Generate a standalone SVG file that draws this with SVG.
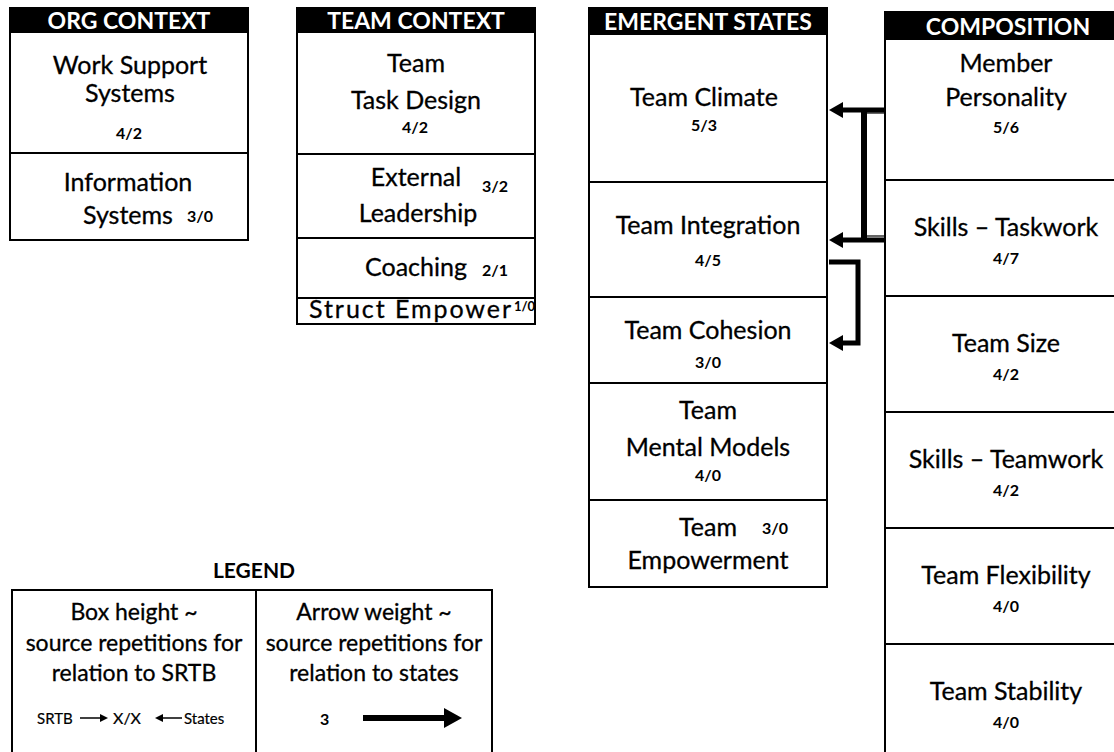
<svg xmlns="http://www.w3.org/2000/svg" width="1114" height="752" viewBox="0 0 1114 752">
<defs>
<style>
.box{fill:#fff;stroke:#000;stroke-width:2}
.hdr{fill:#000}
.div{stroke:#000;stroke-width:2}
.ht{font-family:Lato,"Liberation Sans",sans-serif;font-weight:bold;font-size:23px;fill:#fff;text-anchor:middle}
.t{font-family:Lato,"Liberation Sans",sans-serif;font-size:25px;fill:#000;stroke:#000;stroke-width:0.3;text-anchor:middle}
.n{font-family:Lato,"Liberation Sans",sans-serif;font-weight:bold;font-size:16px;fill:#000;text-anchor:middle}
.ns{font-family:Lato,"Liberation Sans",sans-serif;font-weight:bold;font-size:16px;fill:#000}
.lt{font-family:Lato,"Liberation Sans",sans-serif;font-size:23px;fill:#000;stroke:#000;stroke-width:0.3;text-anchor:middle}
.sm{font-family:Lato,"Liberation Sans",sans-serif;font-size:15px;fill:#000;stroke:#000;stroke-width:0.2}
.arr{fill:none;stroke:#000;stroke-width:5}
</style>
<marker id="ah" viewBox="0 0 14 16" refX="0" refY="8" markerWidth="14" markerHeight="16" markerUnits="userSpaceOnUse" orient="auto">
<path d="M0,0 L14,8 L0,16 z" fill="#000"/>
</marker>
<marker id="ahs" viewBox="0 0 8 8" refX="0" refY="4" markerWidth="8" markerHeight="8" markerUnits="userSpaceOnUse" orient="auto">
<path d="M0,0 L8,4 L0,8 z" fill="#000"/>
</marker>
<marker id="ahb" viewBox="0 0 18 20" refX="0" refY="10" markerWidth="18" markerHeight="20" markerUnits="userSpaceOnUse" orient="auto">
<path d="M0,0 L18,10 L0,20 z" fill="#000"/>
</marker>
</defs>
<rect width="1114" height="752" fill="#fff"/>

<g id="org-context">
<rect class="box" x="10" y="8" width="238" height="232"/>
<rect class="hdr" x="10" y="8" width="238" height="25"/>
<text class="ht" x="129" y="29">ORG CONTEXT</text>
<line class="div" x1="10" y1="153" x2="248" y2="153"/>
<g id="work-support-systems">
<text class="t" x="130" y="74">Work Support</text>
<text class="t" x="130" y="102">Systems</text>
<text class="n" x="129" y="139">4/2</text>
</g>
<g id="information-systems">
<text class="t" x="128" y="191">Information</text>
<text class="t" x="128" y="224">Systems</text>
<text class="ns" x="187" y="222">3/0</text>
</g>
</g>

<g id="team-context">
<rect class="box" x="297" y="8" width="238" height="316"/>
<rect class="hdr" x="297" y="8" width="238" height="25"/>
<text class="ht" x="416" y="29">TEAM CONTEXT</text>
<line class="div" x1="297" y1="154" x2="535" y2="154"/>
<line class="div" x1="297" y1="238" x2="535" y2="238"/>
<line class="div" x1="297" y1="298" x2="535" y2="298"/>
<g id="team-task-design">
<text class="t" x="416" y="72">Team</text>
<text class="t" x="416" y="109">Task Design</text>
<text class="n" x="415" y="133">4/2</text>
</g>
<g id="external-leadership">
<text class="t" x="416" y="186">External</text>
<text class="ns" x="482" y="192">3/2</text>
<text class="t" x="418" y="222">Leadership</text>
</g>
<g id="coaching">
<text class="t" x="416" y="276">Coaching</text>
<text class="ns" x="482" y="276">2/1</text>
</g>
<g id="struct-empower">
<text class="t" x="309" y="318" style="text-anchor:start" textLength="202" lengthAdjust="spacing">Struct Empower</text>
<text class="ns" x="514" y="311" style="font-size:13px">1/0</text>
</g>
</g>

<g id="emergent-states">
<rect class="box" x="589" y="8" width="238" height="579"/>
<rect class="hdr" x="589" y="8" width="238" height="27"/>
<text class="ht" x="708" y="30">EMERGENT STATES</text>
<line class="div" x1="589" y1="182" x2="827" y2="182"/>
<line class="div" x1="589" y1="297" x2="827" y2="297"/>
<line class="div" x1="589" y1="383" x2="827" y2="383"/>
<line class="div" x1="589" y1="500" x2="827" y2="500"/>
<g id="team-climate">
<text class="t" x="704" y="106">Team Climate</text>
<text class="n" x="704" y="131">5/3</text>
</g>
<g id="team-integration">
<text class="t" x="708" y="234">Team Integration</text>
<text class="n" x="708" y="266">4/5</text>
</g>
<g id="team-cohesion">
<text class="t" x="708" y="339">Team Cohesion</text>
<text class="n" x="708" y="368">3/0</text>
</g>
<g id="team-mental-models">
<text class="t" x="708" y="419">Team</text>
<text class="t" x="708" y="456">Mental Models</text>
<text class="n" x="708" y="481">4/0</text>
</g>
<g id="team-empowerment">
<text class="t" x="708" y="536">Team</text>
<text class="ns" x="762" y="534">3/0</text>
<text class="t" x="708" y="569">Empowerment</text>
</g>
</g>

<g id="composition">
<rect class="box" x="885" y="12" width="245" height="760"/>
<rect class="hdr" x="885" y="12" width="245" height="28"/>
<text class="ht" x="1008" y="35">COMPOSITION</text>
<line class="div" x1="885" y1="180" x2="1114" y2="180"/>
<line class="div" x1="885" y1="296" x2="1114" y2="296"/>
<line class="div" x1="885" y1="412" x2="1114" y2="412"/>
<line class="div" x1="885" y1="528" x2="1114" y2="528"/>
<line class="div" x1="885" y1="644" x2="1114" y2="644"/>
<g id="member-personality">
<text class="t" x="1006" y="72">Member</text>
<text class="t" x="1006" y="106">Personality</text>
<text class="n" x="1006" y="133">5/6</text>
</g>
<g id="skills-taskwork">
<text class="t" x="1006" y="236">Skills – Taskwork</text>
<text class="n" x="1006" y="264">4/7</text>
</g>
<g id="team-size">
<text class="t" x="1006" y="352">Team Size</text>
<text class="n" x="1006" y="380">4/2</text>
</g>
<g id="skills-teamwork">
<text class="t" x="1006" y="468">Skills – Teamwork</text>
<text class="n" x="1006" y="496">4/2</text>
</g>
<g id="team-flexibility">
<text class="t" x="1006" y="584">Team Flexibility</text>
<text class="n" x="1006" y="612">4/0</text>
</g>
<g id="team-stability">
<text class="t" x="1006" y="700">Team Stability</text>
<text class="n" x="1006" y="728">4/0</text>
</g>
</g>

<g id="connectors">
<rect x="866" y="113" width="19" height="123" fill="none" stroke="#000" stroke-width="1.2"/>
<path class="arr" d="M885,110 H843" marker-end="url(#ah)"/>
<path class="arr" d="M885,240 H843" marker-end="url(#ah)"/>
<line x1="864" y1="108" x2="864" y2="242" stroke="#000" stroke-width="6"/>
<path class="arr" d="M829,262 H858 V343 H843" stroke-width="4" marker-end="url(#ah)"/>
</g>

<g id="legend">
<text x="254" y="578" style="font-family:Lato,'Liberation Sans',sans-serif;font-weight:bold;font-size:21px;text-anchor:middle">LEGEND</text>
<rect class="box" x="12" y="590" width="480" height="180"/>
<line class="div" x1="256" y1="590" x2="256" y2="752"/>
<text class="lt" x="134" y="620">Box height ~</text>
<text class="lt" x="134" y="651">source repetitions for</text>
<text class="lt" x="134" y="681">relation to SRTB</text>
<text class="sm" x="37" y="724">SRTB</text>
<line x1="80" y1="718" x2="100" y2="718" stroke="#000" stroke-width="1.5" marker-end="url(#ahs)"/>
<text class="sm" x="113" y="724" style="font-size:16px">X/X</text>
<line x1="182" y1="718" x2="163" y2="718" stroke="#000" stroke-width="1.5" marker-end="url(#ahs)"/>
<text class="sm" x="184" y="724">States</text>
<text class="lt" x="374" y="620">Arrow weight ~</text>
<text class="lt" x="374" y="651">source repetitions for</text>
<text class="lt" x="374" y="681">relation to states</text>
<text x="320" y="725" style="font-family:Lato,'Liberation Sans',sans-serif;font-weight:bold;font-size:16px">3</text>
<line x1="363" y1="718" x2="444" y2="718" stroke="#000" stroke-width="6" marker-end="url(#ahb)"/>
</g>
</svg>
